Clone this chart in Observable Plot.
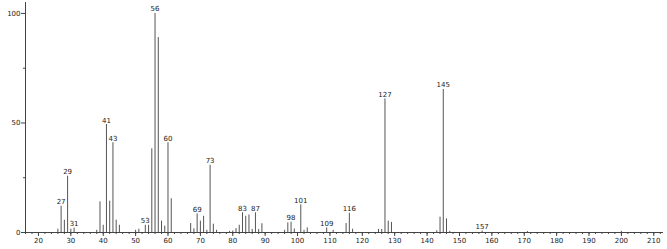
<!DOCTYPE html>
<html>
<head>
<meta charset="utf-8">
<script src="https://cdn.jsdelivr.net/npm/d3@7"></script>
<script src="https://cdn.jsdelivr.net/npm/@observablehq/plot@0.6"></script>
<style>
  html, body { margin: 0; padding: 0; background: #fff; }
  #chart svg { display: block; }
</style>
</head>
<body>
<div id="chart"></div>
<script>
const masses = [26, 27, 28, 29, 30, 31, 38, 39, 40, 41, 42, 43, 44, 45, 50, 51, 53, 54, 55, 56, 57, 58, 59, 60, 61,
  67, 68, 69, 70, 71, 72, 73, 74, 75, 79, 80, 81, 82, 83, 84, 85, 86, 87, 88, 89, 96, 97, 98, 99, 101, 102, 103,
  109, 111, 115, 116, 117, 125, 126, 127, 128, 129, 143, 144, 145, 146, 147, 157, 171, 200];
const intensities = [1.5, 12, 5.6, 25.7, 1.5, 2, 1, 14, 3.3, 49.3, 14.3, 41, 5.6, 3.3, 1, 1.5, 3.3, 3.3, 38.2, 100, 89, 5.2, 2.9, 41, 15.4,
  4.1, 1.7, 8.5, 5.2, 7.4, 1, 30.7, 3.8, 1, 0.5, 0.7, 1.8, 3.3, 9, 7.4, 8, 1.4, 9, 1.4, 4, 1, 4.4, 4.7, 1.6, 12.6, 1, 2.1,
  2.1, 1, 4.1, 8.8, 1.5, 1.4, 1.4, 61, 5.2, 4.6, 0.8, 7, 65.3, 6.2, 0.5, 0.7, 0.4, 0.5];
const labeledMasses = [27, 29, 31, 41, 43, 53, 56, 60, 69, 73, 83, 87, 98, 101, 109, 116, 127, 145, 157];
const xMajorTicks = d3.range(20, 211, 10);
const xMinorTicks = d3.range(16, 213, 2);
const yMajorTicks = [0, 50, 100];
const yMinorTicks = [25, 75];

const peaks = masses.map((m, i) => ({m, v: intensities[i]}));
const labels = peaks.filter(d => labeledMasses.includes(d.m));

const chart = Plot.plot({
  width: 667,
  height: 249,
  marginLeft: 25,
  marginRight: 4,
  marginTop: 2,
  marginBottom: 17,
  style: {fontFamily: "DejaVu Sans", fontSize: "7px", color: "#222", background: "#fff"},
  x: {domain: [16, 213], axis: null, label: null},
  y: {domain: [0, 105], axis: null, label: null},
  marks: [
    Plot.ruleX(peaks, {x: "m", y1: 0, y2: "v", stroke: "#555", strokeWidth: 1}),
    Plot.ruleY([0], {stroke: "#444"}),
    Plot.ruleX([16], {y1: 0, y2: 105, stroke: "#444"}),
    Plot.axisX({ticks: xMinorTicks, tickSize: 2, text: null, label: null, stroke: "#444"}),
    Plot.axisX({ticks: xMajorTicks, tickSize: 4, tickPadding: 2, label: null, stroke: "#444", fill: "#222"}),
    Plot.axisY({ticks: yMinorTicks, tickSize: 2, text: null, label: null, stroke: "#444"}),
    Plot.axisY({ticks: yMajorTicks, tickSize: 4, tickPadding: 1, label: null, stroke: "#444", fill: "#222"}),
    Plot.text(labels, {x: "m", y: "v", text: d => String(d.m), lineAnchor: "bottom", dy: -2, fill: "#222"})
  ]
});
document.getElementById("chart").appendChild(chart);
</script>
</body>
</html>
